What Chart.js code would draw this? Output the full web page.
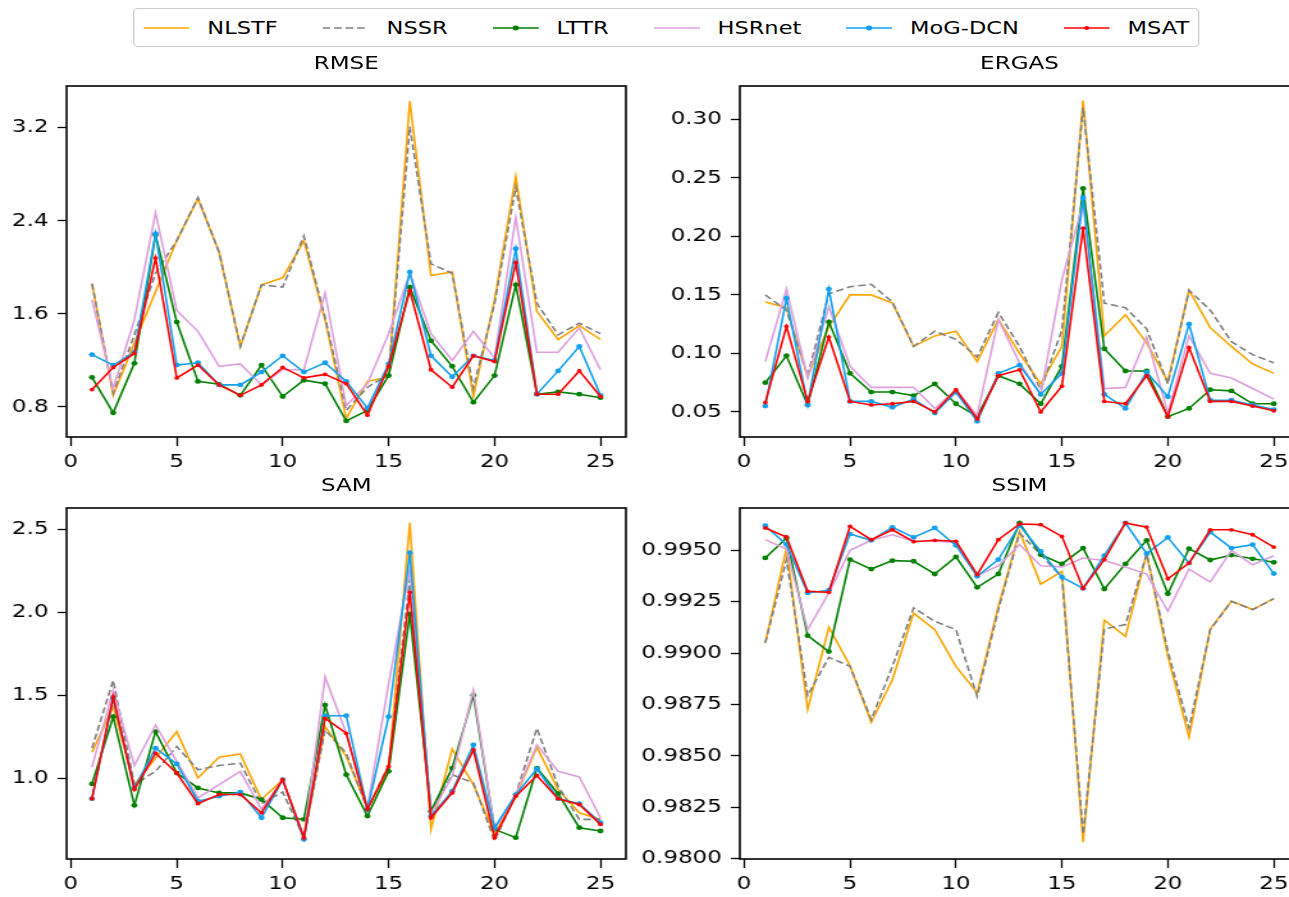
<!DOCTYPE html>
<html>
<head>
<meta charset="utf-8">
<script src="https://cdn.jsdelivr.net/npm/chart.js@4.4.1/dist/chart.umd.min.js"></script>
<style>
  html, body { margin: 0; padding: 0; background: #fff; overflow: hidden; }
  body { width: 1289px; height: 897px; position: relative; }
  /* the figure is laid out narrower and stretched sideways */
  #fig { position: absolute; left: 0; top: 0; width: 1016px; height: 897px;
         transform-origin: 0 0; transform: scale(1.28, 1);
         font-family: "DejaVu Sans", sans-serif; color: #000; }
  #fig canvas { position: absolute; }
  .title { position: absolute; font-size: 18px; line-height: 18px; text-align: center; }
  #legend { position: absolute; left: 104px; top: 8px; height: 37px; box-sizing: content-box;
            border: 1px solid #ccc; border-radius: 4px; background: #fff;
            display: flex; align-items: center; padding: 0 7px; font-size: 17.6px; }
  .item { display: flex; align-items: center; margin-right: 35px; white-space: nowrap; }
  .item:last-child { margin-right: 0; }
  .item svg { width: 36px; height: 18px; margin-right: 14px; }
</style>
</head>
<body>
<div id="fig">
  <div id="legend"></div>
</div>
<script>
// Escenas evaluadas
const scenes = [1, 2, 3, 4, 5, 6, 7, 8, 9, 10, 11, 12, 13, 14, 15, 16, 17, 18, 19, 20, 21, 22, 23, 24, 25];
const methods = ["NLSTF", "NSSR", "LTTR", "HSRnet", "MoG-DCN", "MSAT"];

// RMSE
const rmseNLSTF  = [1.86, 0.90, 1.35, 1.79, 2.23, 2.59, 2.13, 1.32, 1.85, 1.91, 2.23, 1.55, 0.70, 1.02, 1.06, 3.43, 1.93, 1.96, 0.89, 1.72, 2.78, 1.62, 1.38, 1.50, 1.38];
const rmseNSSR   = [1.86, 0.92, 1.42, 1.95, 2.23, 2.60, 2.13, 1.32, 1.85, 1.83, 2.27, 1.57, 0.77, 0.97, 1.08, 3.21, 2.03, 1.95, 0.96, 1.69, 2.69, 1.69, 1.42, 1.52, 1.43];
const rmseLTTR   = [1.055, 0.75, 1.175, 2.28, 1.53, 1.02, 0.995, 0.90, 1.16, 0.89, 1.03, 1.00, 0.68, 0.77, 1.07, 1.83, 1.37, 1.15, 0.84, 1.07, 1.85, 0.91, 0.93, 0.91, 0.88];
const rmseHSRnet = [1.72, 0.96, 1.55, 2.47, 1.63, 1.45, 1.15, 1.17, 0.99, 1.12, 1.12, 1.78, 0.81, 1.00, 1.43, 1.95, 1.43, 1.20, 1.45, 1.22, 2.43, 1.27, 1.27, 1.48, 1.12];
const rmseMoGDCN = [1.25, 1.16, 1.27, 2.29, 1.16, 1.18, 0.99, 0.99, 1.10, 1.24, 1.10, 1.18, 1.02, 0.79, 1.17, 1.96, 1.24, 1.06, 1.24, 1.20, 2.16, 0.91, 1.11, 1.32, 0.90];
const rmseMSAT   = [0.95, 1.14, 1.26, 2.08, 1.05, 1.16, 0.99, 0.90, 0.99, 1.14, 1.05, 1.08, 1.00, 0.73, 1.15, 1.80, 1.12, 0.97, 1.24, 1.19, 2.04, 0.91, 0.91, 1.11, 0.89];

// ERGAS
const ergasNLSTF  = [0.144, 0.139, 0.080, 0.123, 0.150, 0.150, 0.143, 0.106, 0.115, 0.119, 0.093, 0.129, 0.100, 0.074, 0.106, 0.316, 0.115, 0.133, 0.109, 0.076, 0.154, 0.122, 0.106, 0.091, 0.083];
const ergasNSSR   = [0.150, 0.137, 0.081, 0.151, 0.157, 0.159, 0.144, 0.106, 0.119, 0.112, 0.097, 0.135, 0.106, 0.069, 0.120, 0.310, 0.143, 0.139, 0.121, 0.074, 0.154, 0.137, 0.110, 0.099, 0.092];
const ergasLTTR   = [0.075, 0.098, 0.056, 0.127, 0.083, 0.067, 0.067, 0.064, 0.074, 0.057, 0.046, 0.081, 0.074, 0.057, 0.089, 0.241, 0.104, 0.085, 0.085, 0.046, 0.053, 0.069, 0.068, 0.057, 0.057];
const ergasHSRnet = [0.093, 0.155, 0.079, 0.140, 0.089, 0.071, 0.071, 0.071, 0.053, 0.069, 0.047, 0.129, 0.092, 0.065, 0.163, 0.228, 0.070, 0.071, 0.114, 0.049, 0.115, 0.083, 0.079, 0.070, 0.061];
const ergasMoGDCN = [0.055, 0.147, 0.056, 0.155, 0.059, 0.059, 0.054, 0.061, 0.049, 0.067, 0.042, 0.083, 0.090, 0.065, 0.083, 0.233, 0.065, 0.053, 0.084, 0.063, 0.125, 0.060, 0.060, 0.056, 0.052];
const ergasMSAT   = [0.058, 0.123, 0.059, 0.114, 0.059, 0.056, 0.057, 0.059, 0.050, 0.069, 0.044, 0.081, 0.086, 0.050, 0.072, 0.207, 0.059, 0.057, 0.081, 0.046, 0.105, 0.059, 0.059, 0.055, 0.051];

// SAM
const samNLSTF  = [1.155, 1.43, 0.96, 1.12, 1.28, 1.00, 1.125, 1.145, 0.87, 0.99, 0.64, 1.31, 1.13, 0.82, 1.05, 2.54, 0.69, 1.175, 0.96, 0.66, 0.89, 1.185, 0.93, 0.79, 0.75];
const samNSSR   = [1.18, 1.59, 0.96, 1.04, 1.19, 1.05, 1.075, 1.09, 0.845, 0.915, 0.64, 1.29, 1.15, 0.81, 1.08, 2.20, 0.79, 1.02, 0.97, 0.62, 0.90, 1.30, 0.95, 0.75, 0.75];
const samLTTR   = [0.964, 1.37, 0.835, 1.28, 1.03, 0.94, 0.91, 0.91, 0.87, 0.76, 0.75, 1.44, 1.02, 0.77, 1.04, 1.99, 0.80, 1.06, 1.50, 0.69, 0.64, 1.06, 0.905, 0.70, 0.68];
const samHSRnet = [1.066, 1.53, 1.075, 1.32, 1.10, 0.88, 0.96, 1.04, 0.81, 0.99, 0.64, 1.61, 1.27, 0.82, 1.57, 2.26, 0.78, 1.01, 1.53, 0.69, 0.90, 1.20, 1.04, 1.006, 0.76];
const samMoGDCN = [0.875, 1.48, 0.94, 1.18, 1.085, 0.86, 0.89, 0.915, 0.76, 0.99, 0.63, 1.376, 1.376, 0.81, 1.37, 2.36, 0.77, 0.92, 1.20, 0.70, 0.90, 1.055, 0.875, 0.845, 0.73];
const samMSAT   = [0.875, 1.49, 0.93, 1.15, 1.03, 0.845, 0.90, 0.90, 0.79, 0.99, 0.64, 1.36, 1.27, 0.81, 1.07, 2.12, 0.76, 0.91, 1.17, 0.64, 0.89, 1.015, 0.875, 0.84, 0.72];

// SSIM
const ssimNLSTF  = [0.9905, 0.99511, 0.98726, 0.99126, 0.98939, 0.98664, 0.98871, 0.99195, 0.99114, 0.98936, 0.98807, 0.99228, 0.99592, 0.99336, 0.99398, 0.98081, 0.9916, 0.99082, 0.99484, 0.98985, 0.98591, 0.99118, 0.99252, 0.99212, 0.99265];
const ssimNSSR   = [0.9905, 0.99455, 0.98794, 0.9898, 0.98936, 0.98677, 0.98936, 0.9922, 0.99155, 0.99114, 0.9879, 0.99212, 0.99584, 0.99479, 0.9937, 0.9812, 0.99118, 0.99139, 0.99484, 0.99009, 0.98636, 0.99114, 0.99252, 0.99212, 0.99265];
const ssimLTTR   = [0.99463, 0.9956, 0.99085, 0.99008, 0.99455, 0.99409, 0.9945, 0.99447, 0.99385, 0.99468, 0.9932, 0.99385, 0.99633, 0.99479, 0.99434, 0.99511, 0.99312, 0.99434, 0.99549, 0.99289, 0.99508, 0.99453, 0.99477, 0.99459, 0.99442];
const ssimHSRnet = [0.99552, 0.99506, 0.99114, 0.99293, 0.995, 0.99549, 0.99576, 0.99544, 0.99544, 0.99539, 0.99377, 0.99425, 0.99528, 0.99425, 0.99419, 0.99463, 0.99451, 0.99419, 0.99385, 0.99204, 0.99409, 0.99346, 0.995, 0.9943, 0.99474];
const ssimMoGDCN = [0.9962, 0.99528, 0.99293, 0.99306, 0.99579, 0.99549, 0.99612, 0.99563, 0.99609, 0.99524, 0.99374, 0.99455, 0.99622, 0.99495, 0.9937, 0.99315, 0.99474, 0.99633, 0.99484, 0.99563, 0.99438, 0.99589, 0.99511, 0.99528, 0.99387];
const ssimMSAT   = [0.99609, 0.99565, 0.99301, 0.99296, 0.99617, 0.99552, 0.996, 0.99542, 0.99549, 0.99544, 0.99382, 0.99552, 0.99628, 0.99625, 0.99568, 0.99315, 0.99455, 0.99633, 0.99613, 0.99362, 0.99438, 0.996, 0.996, 0.99576, 0.99516];

// Ticks
const xTicks = [0, 5, 10, 15, 20, 25];
const xTickLabels = ["0", "5", "10", "15", "20", "25"];
const rmseTicks = [0.8, 1.6, 2.4, 3.2];
const rmseTickLabels = ["0.8", "1.6", "2.4", "3.2"];
const ergasTicks = [0.05, 0.10, 0.15, 0.20, 0.25, 0.30];
const ergasTickLabels = ["0.05", "0.10", "0.15", "0.20", "0.25", "0.30"];
const samTicks = [1.0, 1.5, 2.0, 2.5];
const samTickLabels = ["1.0", "1.5", "2.0", "2.5"];
const ssimTicks = [0.98, 0.9825, 0.985, 0.9875, 0.99, 0.9925, 0.995];
const ssimTickLabels = ["0.9800", "0.9825", "0.9850", "0.9875", "0.9900", "0.9925", "0.9950"];

// Estilo de cada método (mismo orden que methods)
const lineColors = ["#ffa500", "#808080", "#008000", "#dda0dd", "#12a0ee", "#ff0000"];
const lineDashes = [[], [6, 3], [], [], [], []];
const markerSizes = [0, 0, 2.4, 0, 2.4, 1.9];

const FONT = { family: "DejaVu Sans", size: 18, lineHeight: 1.2 };
const BOX_W = 437, BOX_H = 351;
const PAD_T = 4, PAD_R = 4, XH = 40;

const panels = [
    { title: "RMSE",  left: 52,  top: 86,  yw: 50, yMin: 0.542, yMax: 3.559, ticks: rmseTicks, labels: rmseTickLabels,
      series: [rmseNLSTF, rmseNSSR, rmseLTTR, rmseHSRnet, rmseMoGDCN, rmseMSAT] },
    { title: "ERGAS", left: 578, top: 86,  yw: 78, yMin: 0.0286, yMax: 0.3285, ticks: ergasTicks, labels: ergasTickLabels,
      series: [ergasNLSTF, ergasNSSR, ergasLTTR, ergasHSRnet, ergasMoGDCN, ergasMSAT] },
    { title: "SAM",   left: 52,  top: 508, yw: 50, yMin: 0.511, yMax: 2.630, ticks: samTicks, labels: samTickLabels,
      series: [samNLSTF, samNSSR, samLTTR, samHSRnet, samMoGDCN, samMSAT] },
    { title: "SSIM",  left: 578, top: 508, yw: 78, yMin: 0.97999, yMax: 0.99706, ticks: ssimTicks, labels: ssimTickLabels,
      series: [ssimNLSTF, ssimNSSR, ssimLTTR, ssimHSRnet, ssimMoGDCN, ssimMSAT] }
];

// Marco completo alrededor del área de datos
const frame = {
    id: "frame",
    afterDatasetsDraw(chart) {
        const { ctx, chartArea: a } = chart;
        ctx.save();
        ctx.strokeStyle = "#000";
        ctx.lineWidth = 1.6;
        ctx.strokeRect(a.left, a.top, a.right - a.left, a.bottom - a.top);
        ctx.restore();
    }
};

const fig = document.getElementById("fig");

function crearLeyenda() {
    const legend = document.getElementById("legend");
    methods.forEach((name, k) => {
        const item = document.createElement("div");
        item.className = "item";
        const dash = lineDashes[k].length ? ` stroke-dasharray="${lineDashes[k].join(",")}"` : "";
        const dot = markerSizes[k] ? `<circle cx="18" cy="9" r="${markerSizes[k]}" fill="${lineColors[k]}"/>` : "";
        item.innerHTML = `<svg viewBox="0 0 36 18"><line x1="0" y1="9" x2="36" y2="9" stroke="${lineColors[k]}" stroke-width="1.6"${dash}/>${dot}</svg><span>${name}</span>`;
        legend.appendChild(item);
    });
}

function crearPanel(p) {
    const title = document.createElement("div");
    title.className = "title";
    title.textContent = p.title;
    title.style.left = p.left + "px";
    title.style.width = BOX_W + "px";
    title.style.top = (p.top - 32) + "px";
    fig.appendChild(title);

    const canvas = document.createElement("canvas");
    const cw = p.yw + BOX_W + PAD_R;
    const ch = PAD_T + BOX_H + XH;
    canvas.width = cw;
    canvas.height = ch;
    canvas.style.width = cw + "px";
    canvas.style.height = ch + "px";
    canvas.style.left = (p.left - p.yw) + "px";
    canvas.style.top = (p.top - PAD_T) + "px";
    fig.appendChild(canvas);

    const datasets = methods.map((name, k) => ({
        label: name,
        data: scenes.map((s, i) => ({ x: s, y: p.series[k][i] })),
        borderColor: lineColors[k],
        backgroundColor: lineColors[k],
        borderWidth: 1.6,
        borderDash: lineDashes[k],
        pointRadius: markerSizes[k],
        pointHoverRadius: markerSizes[k],
        pointBorderWidth: 0,
        pointBackgroundColor: lineColors[k],
        tension: 0,
        fill: false,
        order: methods.length - 1 - k
    }));

    const tickGrid = (len) => ({
        display: true, drawOnChartArea: false, drawTicks: true,
        tickLength: len, color: "#000", tickColor: "#000", tickWidth: 1.3
    });

    new Chart(canvas.getContext("2d"), {
        type: "line",
        data: { datasets: datasets },
        options: {
            responsive: false,
            animation: false,
            events: [],
            layout: { padding: { top: PAD_T, right: PAD_R, left: 0, bottom: 0 }, autoPadding: false },
            plugins: { legend: { display: false }, tooltip: { enabled: false } },
            scales: {
                x: {
                    type: "linear", min: -0.2, max: 26.2,
                    afterBuildTicks: (s) => { s.ticks = xTicks.map(v => ({ value: v })); },
                    afterFit: (s) => { s.height = XH; s.paddingLeft = 0; s.paddingRight = 0; },
                    ticks: { callback: (v, i) => xTickLabels[i], font: FONT, color: "#000", padding: 6, maxRotation: 0, autoSkip: false },
                    grid: tickGrid(9),
                    border: { display: false }
                },
                y: {
                    type: "linear", min: p.yMin, max: p.yMax,
                    afterBuildTicks: (s) => { s.ticks = p.ticks.map(v => ({ value: v })); },
                    afterFit: (s) => { s.width = p.yw; s.paddingTop = 0; s.paddingBottom = 0; },
                    ticks: { callback: (v, i) => p.labels[i], font: FONT, color: "#000", padding: 7, autoSkip: false },
                    grid: tickGrid(7),
                    border: { display: false }
                }
            }
        },
        plugins: [frame]
    });
}

crearLeyenda();
panels.forEach(crearPanel);
</script>
</body>
</html>
